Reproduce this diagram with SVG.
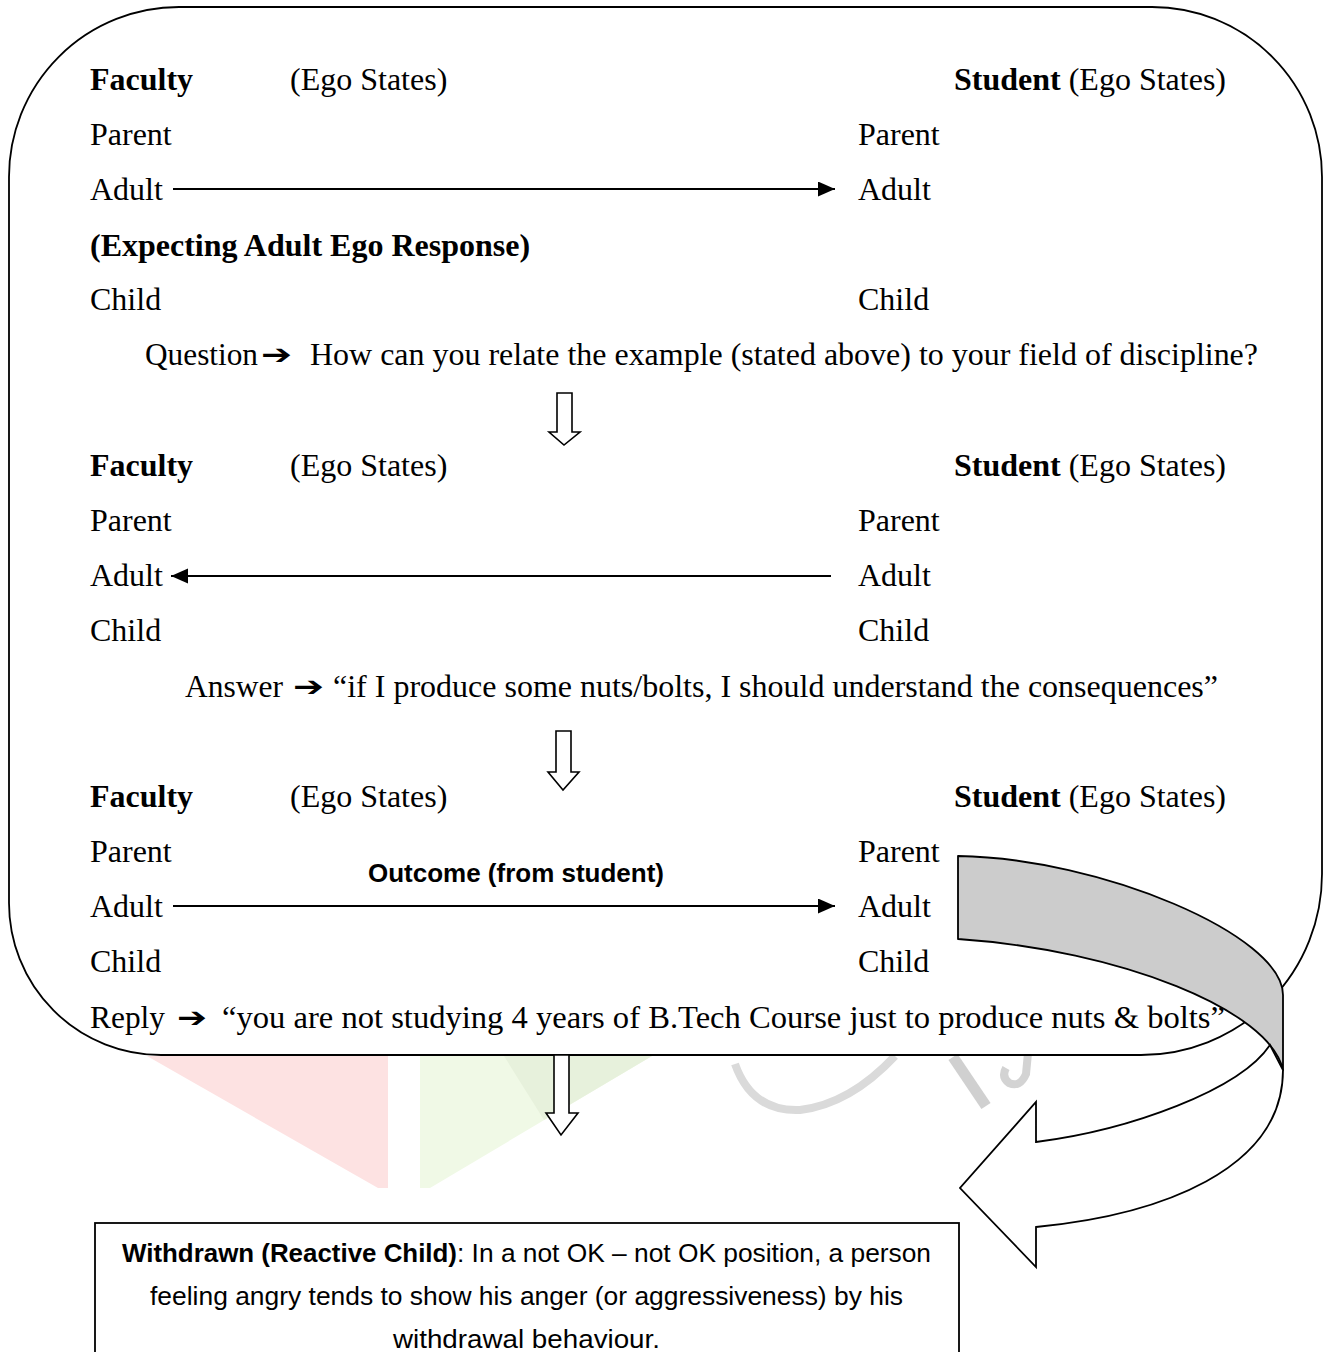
<svg xmlns="http://www.w3.org/2000/svg" width="1325" height="1352" viewBox="0 0 1325 1352">
<style>
.t{font-family:"Liberation Serif","Times New Roman",serif;font-size:32px;fill:#000}
.b{font-weight:bold}
.ar{font-family:"DejaVu Sans",sans-serif;font-size:28px;font-weight:bold;fill:#000}
.s{font-family:"Liberation Sans",Arial,sans-serif;font-size:26px;fill:#000}
.ln{stroke:#000;stroke-width:2;fill:none}
.hol{fill:#fff;stroke:#000;stroke-width:1.6;stroke-linejoin:miter}
</style>
<defs>
<marker id="ah" markerUnits="userSpaceOnUse" markerWidth="18" markerHeight="16" refX="17" refY="7.5" orient="auto">
<path d="M0,0 L17,7.5 L0,15 Z" fill="#000"/>
</marker>
</defs>
<g id="watermark">
<polygon points="147,1056 388,1056 388,1188 378,1188" fill="#fde2e2"/>
<polygon points="420,1056 652,1056 430,1188 420,1188" fill="#f0f9e6"/>
<polygon points="504,1056 652,1056 544,1120" fill="#e7f1dc"/>
<path d="M735,1064 Q752,1112 800,1110 Q850,1104 895,1056" fill="none" stroke="#dadada" stroke-width="8"/>
<path d="M953,1057 L986,1106" fill="none" stroke="#d0d0d0" stroke-width="11"/>
<path d="M1028,1053 L1026,1074 Q1020,1088 1009,1083 Q1001,1077 1006,1068" fill="none" stroke="#d3d3d3" stroke-width="8"/>
</g>
<g id="frame">
<path d="M179,7 L1152,7 A170,170 0 0 1 1322,177 L1322,874 A181,181 0 0 1 1141,1055 L161,1055 A152,152 0 0 1 9,903 L9,177 A170,170 0 0 1 179,7 Z" fill="#fff" stroke="#000" stroke-width="1.8"/>
</g>
<g id="section1">
<text class="t b" x="90" y="90">Faculty</text>
<text class="t" x="290" y="90">(Ego States)</text>
<text class="t" x="954" y="90"><tspan class="b">Student</tspan> (Ego States)</text>
<text class="t" x="90" y="145">Parent</text>
<text class="t" x="858" y="145">Parent</text>
<text class="t" x="90" y="200">Adult</text>
<text class="t" x="858" y="200">Adult</text>
<text class="t b" x="90" y="256">(Expecting Adult Ego Response)</text>
<text class="t" x="90" y="310">Child</text>
<text class="t" x="858" y="310">Child</text>
</g>
<g id="question">
<text class="t" x="145" y="365" textLength="113" lengthAdjust="spacingAndGlyphs">Question</text>
<text class="ar" x="261" y="364" textLength="31" lengthAdjust="spacingAndGlyphs">➔</text>
<text class="t" x="310" y="365" textLength="948" lengthAdjust="spacingAndGlyphs">How can you relate the example (stated above) to your field of discipline?</text>
</g>
<g id="section2">
<text class="t b" x="90" y="476">Faculty</text>
<text class="t" x="290" y="476">(Ego States)</text>
<text class="t" x="954" y="476"><tspan class="b">Student</tspan> (Ego States)</text>
<text class="t" x="90" y="531">Parent</text>
<text class="t" x="858" y="531">Parent</text>
<text class="t" x="90" y="586">Adult</text>
<text class="t" x="858" y="586">Adult</text>
<text class="t" x="90" y="641">Child</text>
<text class="t" x="858" y="641">Child</text>
</g>
<g id="answer">
<text class="t" x="185" y="697" textLength="98" lengthAdjust="spacingAndGlyphs">Answer</text>
<text class="ar" x="293" y="696" textLength="31" lengthAdjust="spacingAndGlyphs">➔</text>
<text class="t" x="333" y="697" textLength="885" lengthAdjust="spacingAndGlyphs">“if I produce some nuts/bolts, I should understand the consequences”</text>
</g>
<g id="section3">
<text class="t b" x="90" y="807">Faculty</text>
<text class="t" x="290" y="807">(Ego States)</text>
<text class="t" x="954" y="807"><tspan class="b">Student</tspan> (Ego States)</text>
<text class="t" x="90" y="862">Parent</text>
<text class="t" x="858" y="862">Parent</text>
<text class="t" x="90" y="917">Adult</text>
<text class="t" x="858" y="917">Adult</text>
<text class="t" x="90" y="972">Child</text>
<text class="t" x="858" y="972">Child</text>
<text class="s b" x="368" y="882" textLength="296" lengthAdjust="spacingAndGlyphs">Outcome (from student)</text>
</g>
<g id="reply">
<text class="t" x="90" y="1028" textLength="75" lengthAdjust="spacingAndGlyphs">Reply</text>
<text class="ar" x="177" y="1027" textLength="30" lengthAdjust="spacingAndGlyphs">➔</text>
<text class="t" x="222" y="1028" textLength="1003" lengthAdjust="spacingAndGlyphs">“you are not studying 4 years of B.Tech Course just to produce nuts &amp; bolts”</text>
</g>
<g id="connectors">
<line class="ln" x1="173" y1="189" x2="835" y2="189" marker-end="url(#ah)"/>
<line class="ln" x1="831" y1="576" x2="171" y2="576" marker-end="url(#ah)"/>
<line class="ln" x1="173" y1="906" x2="835" y2="906" marker-end="url(#ah)"/>
<polygon class="hol" points="557,393 572,393 572,432 580,432 564,445 549,432 557,432"/>
<polygon class="hol" points="556,731 571,731 571,772 579,772 563,790 548,772 556,772"/>
<polygon class="hol" points="554,1055 569,1055 569,1113 578,1113 561,1135 546,1113 554,1113"/>
<g id="curved-arrow">
<path d="M958,856 C1100,858 1283,935 1283,995 L1283,1070 C1270,1010 1120,950 958,939 Z" fill="#cccccc" stroke="#000" stroke-width="1.8" stroke-linejoin="round"/>
<path d="M1270,1045 C1240,1090 1130,1130 1036,1142 L1036,1102 L960,1188 L1036,1267 L1036,1227 C1160,1215 1283,1170 1283,1070 Z" fill="#fff" stroke="#000" stroke-width="1.8" stroke-linejoin="miter"/>
</g>
</g>
<g id="note">
<rect x="95" y="1223" width="864" height="140" fill="#fff" stroke="#000" stroke-width="1.8"/>
<text class="s b" x="122" y="1262" textLength="335" lengthAdjust="spacingAndGlyphs">Withdrawn (Reactive Child)</text>
<text class="s" x="457" y="1262" textLength="474" lengthAdjust="spacingAndGlyphs">: In a not OK – not OK position, a person</text>
<text class="s" x="150" y="1305" textLength="753" lengthAdjust="spacingAndGlyphs">feeling angry tends to show his anger (or aggressiveness) by his</text>
<text class="s" x="393" y="1348" textLength="267" lengthAdjust="spacingAndGlyphs">withdrawal behaviour.</text>
</g>
</svg>
